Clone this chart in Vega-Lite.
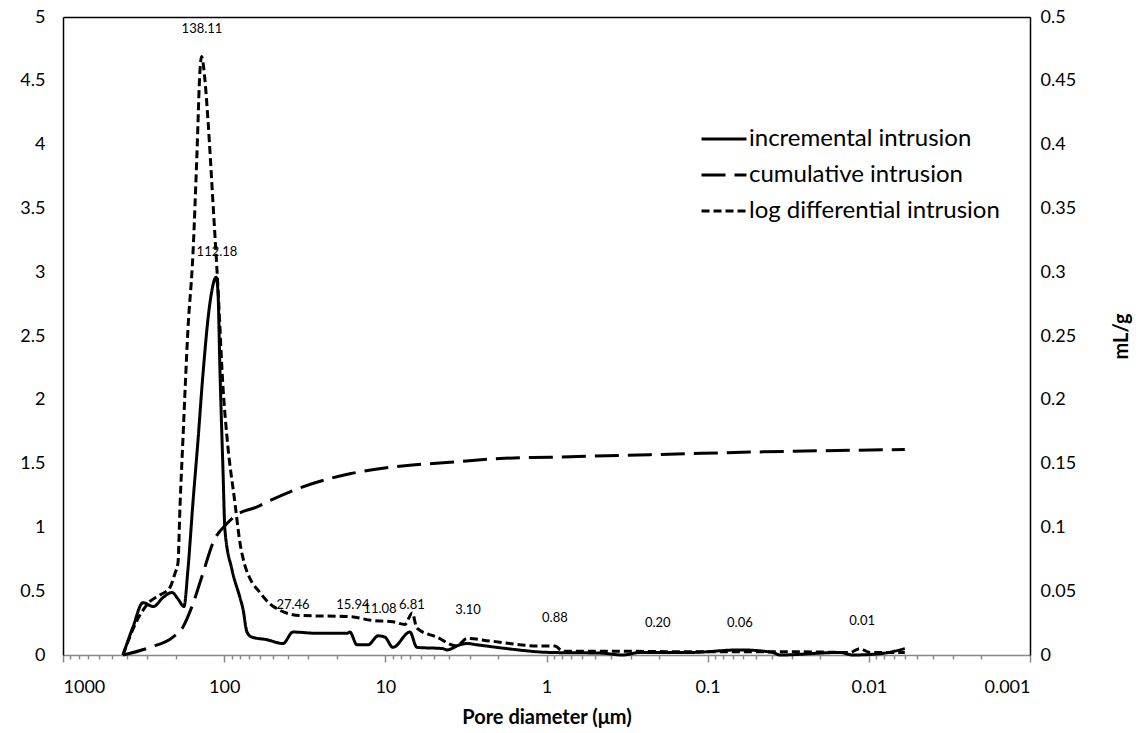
{
  "$schema": "https://vega.github.io/schema/vega-lite/v6.json",
  "width": 967,
  "height": 638,
  "autosize": {"type": "none"},
  "padding": {"left": 63, "top": 17, "right": 112, "bottom": 78},
  "background": "white",
  "config": {
    "font": "Lato",
    "view": {"stroke": null},
    "axis": {"grid": false, "labelColor": "black", "titleColor": "black"}
  },
  "datasets": {
    "main": [
      {"d": 424.5, "v": 0, "series": "incremental intrusion"},
      {"d": 367.9, "v": 0.22, "series": "incremental intrusion"},
      {"d": 318.9, "v": 0.41, "series": "incremental intrusion"},
      {"d": 275, "v": 0.38, "series": "incremental intrusion"},
      {"d": 239.7, "v": 0.45, "series": "incremental intrusion"},
      {"d": 210.8, "v": 0.49, "series": "incremental intrusion"},
      {"d": 193.5, "v": 0.44, "series": "incremental intrusion"},
      {"d": 177.6, "v": 0.38, "series": "incremental intrusion"},
      {"d": 167.8, "v": 0.67, "series": "incremental intrusion"},
      {"d": 156.1, "v": 1.2, "series": "incremental intrusion"},
      {"d": 145.4, "v": 1.68, "series": "incremental intrusion"},
      {"d": 135.4, "v": 2.2, "series": "incremental intrusion"},
      {"d": 122.5, "v": 2.76, "series": "incremental intrusion"},
      {"d": 112.18, "v": 2.96, "series": "incremental intrusion"},
      {"d": 109.3, "v": 2.85, "series": "incremental intrusion"},
      {"d": 106.2, "v": 2.23, "series": "incremental intrusion"},
      {"d": 101.7, "v": 1.45, "series": "incremental intrusion"},
      {"d": 98.9, "v": 0.98, "series": "incremental intrusion"},
      {"d": 89.5, "v": 0.67, "series": "incremental intrusion"},
      {"d": 79.8, "v": 0.45, "series": "incremental intrusion"},
      {"d": 76.4, "v": 0.36, "series": "incremental intrusion"},
      {"d": 72.2, "v": 0.18, "series": "incremental intrusion"},
      {"d": 67.2, "v": 0.14, "series": "incremental intrusion"},
      {"d": 54.3, "v": 0.12, "series": "incremental intrusion"},
      {"d": 43.2, "v": 0.09, "series": "incremental intrusion"},
      {"d": 37.4, "v": 0.18, "series": "incremental intrusion"},
      {"d": 26.6, "v": 0.17, "series": "incremental intrusion"},
      {"d": 17.3, "v": 0.17, "series": "incremental intrusion"},
      {"d": 16.6, "v": 0.18, "series": "incremental intrusion"},
      {"d": 15.0, "v": 0.08, "series": "incremental intrusion"},
      {"d": 12.8, "v": 0.08, "series": "incremental intrusion"},
      {"d": 11.08, "v": 0.15, "series": "incremental intrusion"},
      {"d": 10.06, "v": 0.14, "series": "incremental intrusion"},
      {"d": 8.97, "v": 0.06, "series": "incremental intrusion"},
      {"d": 7.04, "v": 0.18, "series": "incremental intrusion"},
      {"d": 6.37, "v": 0.06, "series": "incremental intrusion"},
      {"d": 4.39, "v": 0.05, "series": "incremental intrusion"},
      {"d": 4.15, "v": 0.04, "series": "incremental intrusion"},
      {"d": 3.45, "v": 0.08, "series": "incremental intrusion"},
      {"d": 3.12, "v": 0.09, "series": "incremental intrusion"},
      {"d": 2.7, "v": 0.08, "series": "incremental intrusion"},
      {"d": 1.76, "v": 0.05, "series": "incremental intrusion"},
      {"d": 0.953, "v": 0.02, "series": "incremental intrusion"},
      {"d": 0.466, "v": 0.015, "series": "incremental intrusion"},
      {"d": 0.336, "v": 0.0, "series": "incremental intrusion"},
      {"d": 0.263, "v": 0.02, "series": "incremental intrusion"},
      {"d": 0.129, "v": 0.02, "series": "incremental intrusion"},
      {"d": 0.0631, "v": 0.04, "series": "incremental intrusion"},
      {"d": 0.0394, "v": 0.02, "series": "incremental intrusion"},
      {"d": 0.0357, "v": 0.0, "series": "incremental intrusion"},
      {"d": 0.0151, "v": 0.02, "series": "incremental intrusion"},
      {"d": 0.0126, "v": 0.0, "series": "incremental intrusion"},
      {"d": 0.00855, "v": 0.01, "series": "incremental intrusion"},
      {"d": 0.00598, "v": 0.05, "series": "incremental intrusion"},

      {"d": 424.5, "v": 0, "series": "log differential intrusion"},
      {"d": 347.5, "v": 0.27, "series": "log differential intrusion"},
      {"d": 288.4, "v": 0.42, "series": "log differential intrusion"},
      {"d": 250.2, "v": 0.47, "series": "log differential intrusion"},
      {"d": 216.9, "v": 0.53, "series": "log differential intrusion"},
      {"d": 201.9, "v": 0.64, "series": "log differential intrusion"},
      {"d": 193.5, "v": 0.72, "series": "log differential intrusion"},
      {"d": 188.0, "v": 1.16, "series": "log differential intrusion"},
      {"d": 180.1, "v": 1.7, "series": "log differential intrusion"},
      {"d": 167.8, "v": 2.55, "series": "log differential intrusion"},
      {"d": 156.1, "v": 3.15, "series": "log differential intrusion"},
      {"d": 147.5, "v": 3.93, "series": "log differential intrusion"},
      {"d": 141.3, "v": 4.58, "series": "log differential intrusion"},
      {"d": 138.11, "v": 4.69, "series": "log differential intrusion"},
      {"d": 131.5, "v": 4.5, "series": "log differential intrusion"},
      {"d": 126.0, "v": 4.19, "series": "log differential intrusion"},
      {"d": 117.3, "v": 3.54, "series": "log differential intrusion"},
      {"d": 109.3, "v": 2.88, "series": "log differential intrusion"},
      {"d": 101.7, "v": 2.1, "series": "log differential intrusion"},
      {"d": 96.1, "v": 1.71, "series": "log differential intrusion"},
      {"d": 85.7, "v": 1.19, "series": "log differential intrusion"},
      {"d": 79.8, "v": 0.88, "series": "log differential intrusion"},
      {"d": 74.3, "v": 0.7, "series": "log differential intrusion"},
      {"d": 69.2, "v": 0.6, "series": "log differential intrusion"},
      {"d": 60.0, "v": 0.49, "series": "log differential intrusion"},
      {"d": 52.0, "v": 0.4, "series": "log differential intrusion"},
      {"d": 45.0, "v": 0.35, "series": "log differential intrusion"},
      {"d": 33.9, "v": 0.31, "series": "log differential intrusion"},
      {"d": 16.6, "v": 0.3, "series": "log differential intrusion"},
      {"d": 11.9, "v": 0.27, "series": "log differential intrusion"},
      {"d": 8.97, "v": 0.26, "series": "log differential intrusion"},
      {"d": 7.56, "v": 0.24, "series": "log differential intrusion"},
      {"d": 6.81, "v": 0.33, "series": "log differential intrusion"},
      {"d": 6.37, "v": 0.21, "series": "log differential intrusion"},
      {"d": 4.79, "v": 0.14, "series": "log differential intrusion"},
      {"d": 3.6, "v": 0.07, "series": "log differential intrusion"},
      {"d": 3.12, "v": 0.13, "series": "log differential intrusion"},
      {"d": 2.24, "v": 0.11, "series": "log differential intrusion"},
      {"d": 1.1, "v": 0.07, "series": "log differential intrusion"},
      {"d": 0.887, "v": 0.07, "series": "log differential intrusion"},
      {"d": 0.791, "v": 0.03, "series": "log differential intrusion"},
      {"d": 0.466, "v": 0.03, "series": "log differential intrusion"},
      {"d": 0.112, "v": 0.025, "series": "log differential intrusion"},
      {"d": 0.0268, "v": 0.025, "series": "log differential intrusion"},
      {"d": 0.0131, "v": 0.02, "series": "log differential intrusion"},
      {"d": 0.0114, "v": 0.05, "series": "log differential intrusion"},
      {"d": 0.00986, "v": 0.02, "series": "log differential intrusion"},
      {"d": 0.00598, "v": 0.02, "series": "log differential intrusion"}
    ],
    "cum": [
      {"d": 424.5, "v": 0, "series": "cumulative intrusion"},
      {"d": 288.4, "v": 0.006, "series": "cumulative intrusion"},
      {"d": 207.8, "v": 0.014, "series": "cumulative intrusion"},
      {"d": 180.1, "v": 0.022, "series": "cumulative intrusion"},
      {"d": 158.4, "v": 0.038, "series": "cumulative intrusion"},
      {"d": 135.4, "v": 0.064, "series": "cumulative intrusion"},
      {"d": 117.3, "v": 0.088, "series": "cumulative intrusion"},
      {"d": 96.1, "v": 0.103, "series": "cumulative intrusion"},
      {"d": 83.3, "v": 0.11, "series": "cumulative intrusion"},
      {"d": 62.6, "v": 0.116, "series": "cumulative intrusion"},
      {"d": 52.0, "v": 0.121, "series": "cumulative intrusion"},
      {"d": 33.9, "v": 0.131, "series": "cumulative intrusion"},
      {"d": 16.6, "v": 0.142, "series": "cumulative intrusion"},
      {"d": 8.12, "v": 0.148, "series": "cumulative intrusion"},
      {"d": 3.98, "v": 0.151, "series": "cumulative intrusion"},
      {"d": 1.95, "v": 0.154, "series": "cumulative intrusion"},
      {"d": 0.953, "v": 0.155, "series": "cumulative intrusion"},
      {"d": 0.228, "v": 0.157, "series": "cumulative intrusion"},
      {"d": 0.0547, "v": 0.159, "series": "cumulative intrusion"},
      {"d": 0.00598, "v": 0.161, "series": "cumulative intrusion"}
    ],
    "labels": [
      {"d": 137.3, "v": 4.906, "label": "138.11"},
      {"d": 110.8, "v": 3.158, "label": "112.18"},
      {"d": 37.4, "v": 0.392, "label": "27.46"},
      {"d": 15.9, "v": 0.392, "label": "15.94"},
      {"d": 10.8, "v": 0.36, "label": "11.08"},
      {"d": 6.84, "v": 0.392, "label": "6.81"},
      {"d": 3.07, "v": 0.353, "label": "3.10"},
      {"d": 0.887, "v": 0.29, "label": "0.88"},
      {"d": 0.204, "v": 0.25, "label": "0.20"},
      {"d": 0.0631, "v": 0.25, "label": "0.06"},
      {"d": 0.011, "v": 0.266, "label": "0.01"}
    ]
  },
  "resolve": {"scale": {"y": "independent"}, "axis": {"x": "independent", "y": "independent"}},
  "layer": [
    {
      "data": {"name": "main"},
      "mark": {"type": "line", "interpolate": "monotone", "strokeWidth": 3, "color": "black", "strokeCap": "butt"},
      "encoding": {
        "x": {
          "field": "d", "type": "quantitative",
          "scale": {"type": "log", "domain": [0.001, 1000], "reverse": true},
          "axis": {
            "orient": "bottom",
            "values": [1000, 100, 10, 1, 0.1, 0.01, 0.001], "format": "~g",
            "labelFontSize": 18, "labelPadding": 16, "tickSize": 7, "tickColor": "#888888",
            "domainColor": "#888888", "domainWidth": 1.5, "tickWidth": 1.5,
            "title": "Pore diameter (μm)", "titleFontSize": 20, "titleFontWeight": "bold", "titlePadding": 11
          }
        },
        "y": {
          "field": "v", "type": "quantitative",
          "scale": {"domain": [0, 5], "nice": false},
          "axis": {
            "values": [0, 0.5, 1, 1.5, 2, 2.5, 3, 3.5, 4, 4.5, 5], "format": "~g",
            "labelFontSize": 18, "ticks": false, "labelPadding": 18,
            "domainColor": "black", "domainWidth": 1.5, "title": null
          }
        },
        "strokeDash": {
          "field": "series", "type": "nominal",
          "scale": {
            "domain": ["incremental intrusion", "cumulative intrusion", "log differential intrusion"],
            "range": [[1, 0], [24, 9], [8, 4]]
          },
          "legend": {
            "title": null, "orient": "none", "legendX": 637, "legendY": 98,
            "symbolType": "stroke", "symbolSize": 2025, "symbolStrokeWidth": 3, "symbolStrokeColor": "black",
            "labelFontSize": 24, "labelOffset": 1, "rowPadding": -15, "labelColor": "black", "labelLimit": 0
          }
        }
      }
    },
    {
      "data": {"name": "cum"},
      "mark": {"type": "line", "interpolate": "monotone", "strokeWidth": 3, "color": "black", "strokeCap": "butt"},
      "encoding": {
        "x": {
          "field": "d", "type": "quantitative",
          "axis": {
            "orient": "top", "labels": false, "ticks": false,
            "domainColor": "black", "domainWidth": 1.5, "title": null
          }
        },
        "y": {
          "field": "v", "type": "quantitative",
          "scale": {"domain": [0, 0.5], "nice": false},
          "axis": {
            "orient": "right",
            "values": [0, 0.05, 0.1, 0.15, 0.2, 0.25, 0.3, 0.35, 0.4, 0.45, 0.5], "format": "~g",
            "labelFontSize": 18, "ticks": false, "labelPadding": 10,
            "domainColor": "black", "domainWidth": 1.5,
            "title": "mL/g", "titleFontSize": 20, "titleFontWeight": "bold", "titleAngle": 270, "titlePadding": 56
          }
        },
        "strokeDash": {"field": "series", "type": "nominal"}
      }
    },
    {
      "data": {"name": "labels"},
      "mark": {"type": "text", "fontSize": 13, "color": "black", "align": "center", "baseline": "middle"},
      "encoding": {
        "x": {
          "field": "d", "type": "quantitative",
          "axis": {
            "orient": "bottom",
            "values": [2, 3, 4, 5, 6, 7, 8, 9, 20, 30, 40, 50, 60, 70, 80, 90, 200, 300, 400, 500, 600, 700, 800, 900,
                       0.2, 0.3, 0.4, 0.5, 0.6, 0.7, 0.8, 0.9, 0.02, 0.03, 0.04, 0.05, 0.06, 0.07, 0.08, 0.09,
                       0.002, 0.003, 0.004, 0.005, 0.006, 0.007, 0.008, 0.009],
            "labels": false, "domain": false, "tickSize": 4, "tickColor": "#888888", "tickWidth": 1.5, "title": null
          }
        },
        "y": {
          "field": "v", "type": "quantitative",
          "scale": {"domain": [0, 5], "nice": false},
          "axis": null
        },
        "text": {"field": "label"}
      }
    }
  ]
}
